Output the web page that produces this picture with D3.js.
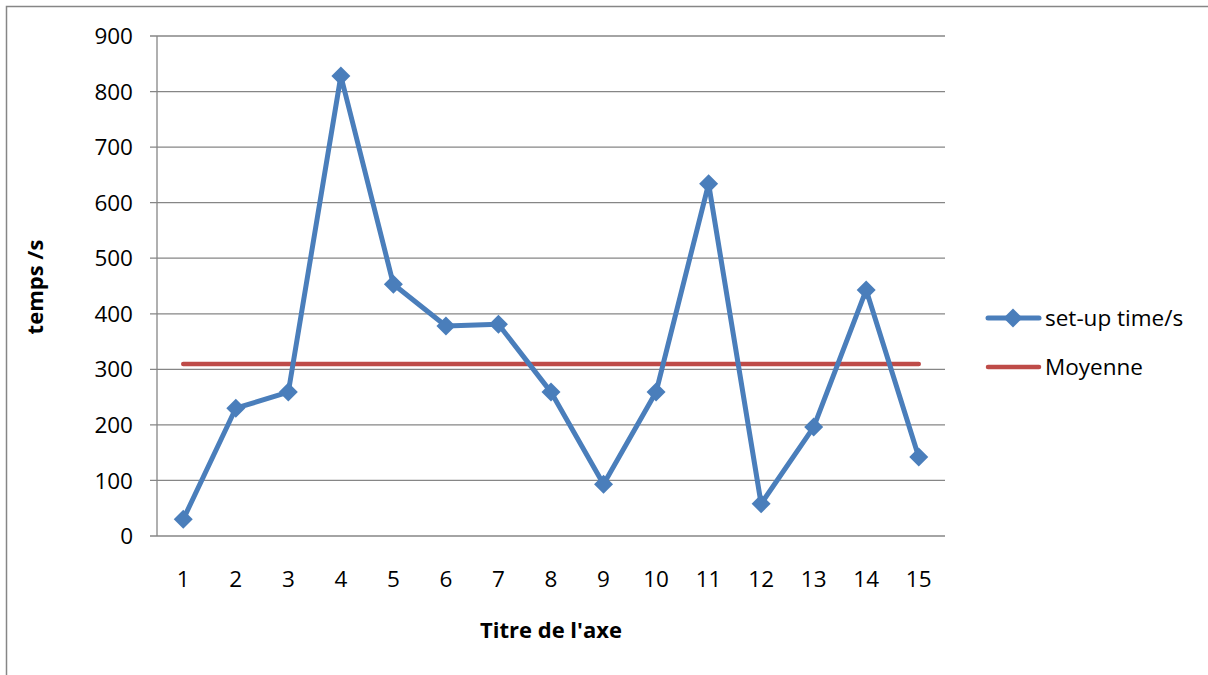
<!DOCTYPE html>
<html><head><meta charset="utf-8">
<script src="https://cdn.jsdelivr.net/npm/d3@7"></script>
<style>body{margin:0;background:#fff}svg{display:block}</style>
</head><body>
<svg id="c" width="1208" height="675"></svg>
<script>
const categories = ["1","2","3","4","5","6","7","8","9","10","11","12","13","14","15"];
const setupTime = [30,230,259,828,453,378,381,259,93,259,634,58,196,443,142];
const moyenne = [309.5,309.5,309.5,309.5,309.5,309.5,309.5,309.5,309.5,309.5,309.5,309.5,309.5,309.5,309.5];
const yTicks = [0,100,200,300,400,500,600,700,800,900];
const seriesNames = ["set-up time/s","Moyenne"];
const colors = ["#4a7ebb","#be4b48"];

const font = "'Open Sans', Lato, sans-serif";
const fs = 22.5;
const svg = d3.select("#c");
const m = {l:157, r:945, t:36, b:536};

svg.append("rect").attr("x",6.5).attr("y",6.5).attr("width",1220).attr("height",700)
  .attr("fill","#fff").attr("stroke","#868686").attr("stroke-width",1.5);

const x = d3.scaleBand().domain(categories).range([m.l,m.r]);
const y = d3.scaleLinear().domain([0,900]).range([m.b,m.t]);
const cx = d => x(d) + x.bandwidth()/2;

// gridlines
svg.append("g").selectAll("line").data(yTicks).join("line")
  .attr("x1",m.l-7).attr("x2",m.r).attr("y1",d=>y(d)).attr("y2",d=>y(d))
  .attr("stroke","#868686").attr("stroke-width",1.3);
// y axis line
svg.append("line").attr("x1",m.l).attr("x2",m.l).attr("y1",m.t).attr("y2",m.b)
  .attr("stroke","#868686").attr("stroke-width",1.3);

// y tick labels
svg.append("g").selectAll("text").data(yTicks).join("text")
  .attr("x",133).attr("y",d=>y(d)).attr("dy","0.36em").attr("text-anchor","end")
  .attr("font-family",font).attr("font-size",fs).attr("fill","#000").text(d=>d);
// x tick labels
svg.append("g").selectAll("text").data(categories).join("text")
  .attr("x",d=>cx(d)).attr("y",587).attr("text-anchor","middle")
  .attr("font-family",font).attr("font-size",fs).attr("fill","#000").text(d=>d);

// axis titles
svg.append("text").attr("x",551).attr("y",638).attr("text-anchor","middle")
  .attr("font-family",font).attr("font-weight","bold").attr("font-size",22).text("Titre de l'axe");
svg.append("text").attr("transform","translate(43,287) rotate(-90)").attr("text-anchor","middle")
  .attr("font-family",font).attr("font-weight","bold").attr("font-size",22).text("temps /s");

// Moyenne line
const line = d3.line().x((d,i)=>cx(categories[i])).y(d=>y(d));
svg.append("path").datum(moyenne).attr("d",line).attr("fill","none")
  .attr("stroke",colors[1]).attr("stroke-width",4.5).attr("stroke-linecap","round");

// set-up time line
svg.append("path").datum(setupTime).attr("d",line).attr("fill","none")
  .attr("stroke",colors[0]).attr("stroke-width",5).attr("stroke-linejoin","round").attr("stroke-linecap","round");
const diamond = s => `M0,${-s}L${s},0L0,${s}L${-s},0Z`;
svg.append("g").selectAll("path").data(setupTime).join("path")
  .attr("transform",(d,i)=>`translate(${cx(categories[i])},${y(d)})`)
  .attr("d",diamond(9.5)).attr("fill",colors[0]);

// legend
const lg = svg.append("g");
lg.append("line").attr("x1",988).attr("x2",1039).attr("y1",318).attr("y2",318)
  .attr("stroke",colors[0]).attr("stroke-width",5).attr("stroke-linecap","round");
lg.append("path").attr("transform","translate(1013,318)").attr("d",diamond(9.5)).attr("fill",colors[0]);
lg.append("text").attr("x",1045).attr("y",318).attr("dy","0.36em")
  .attr("font-family",font).attr("font-size",fs).text(seriesNames[0]);
lg.append("line").attr("x1",988).attr("x2",1039).attr("y1",367).attr("y2",367)
  .attr("stroke",colors[1]).attr("stroke-width",4.5).attr("stroke-linecap","round");
lg.append("text").attr("x",1045).attr("y",367).attr("dy","0.36em")
  .attr("font-family",font).attr("font-size",fs).text(seriesNames[1]);
</script>
</body></html>
